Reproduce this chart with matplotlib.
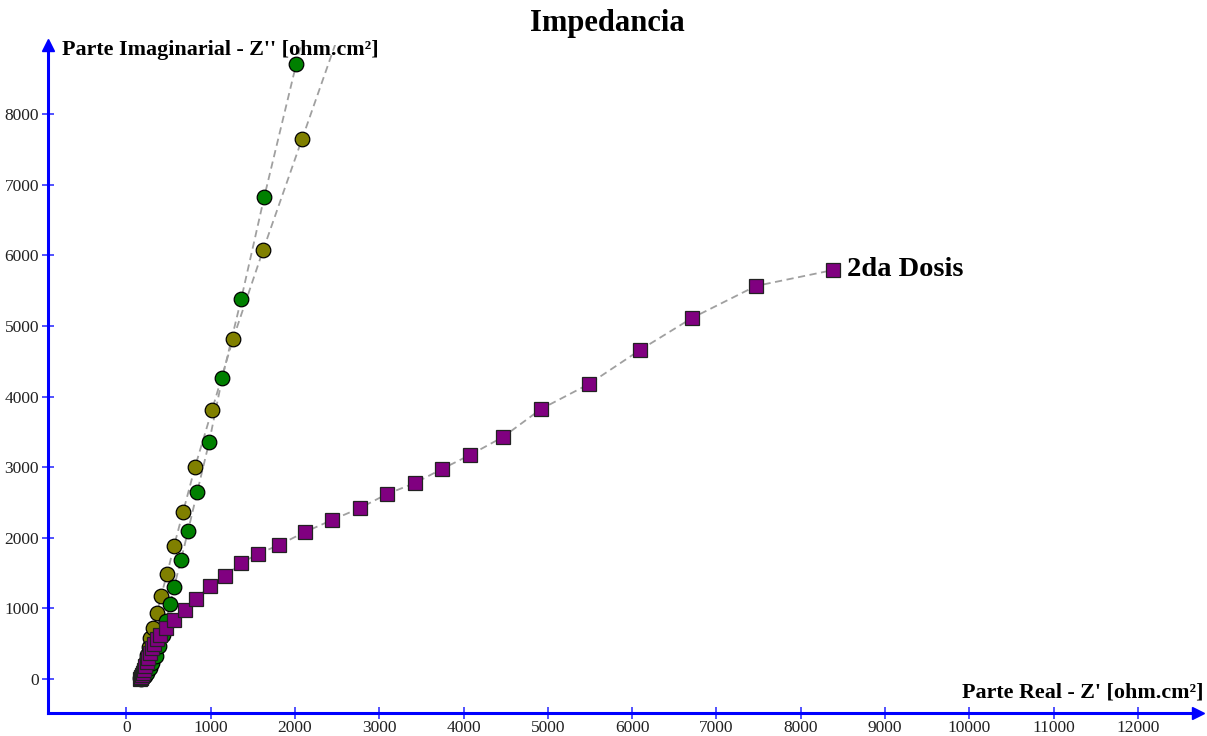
import matplotlib
matplotlib.use("Agg")
import matplotlib.pyplot as plt

plt.rcParams['font.family'] = ['Liberation Serif', 'DejaVu Serif']

# Series data (Z' real, Z'' imaginary) in ohm.cm²
dosis2_re = [160, 170, 180, 190, 200, 210, 225, 240, 260, 280, 300, 330, 360,
             400, 471, 566, 696, 827, 993, 1172, 1362, 1563, 1812, 2120, 2441,
             2773, 3093, 3425, 3745, 4078, 4469, 4920, 5489, 6094, 6711, 7470, 8387]
dosis2_im = [5, 15, 35, 60, 90, 130, 180, 240, 300, 370, 440, 500, 560,
             623, 722, 836, 977, 1133, 1317, 1459, 1643, 1771, 1898, 2082, 2252,
             2422, 2620, 2776, 2975, 3173, 3428, 3824, 4178, 4660, 5113, 5567, 5793]

green_re = [180, 200, 220, 250, 280, 310, 350, 390, 430, 471, 518, 566, 649,
            732, 841, 983, 1138, 1363, 1636, 2016, 2400]
green_im = [5, 20, 45, 90, 150, 230, 330, 460, 620, 822, 1062, 1303, 1686,
            2096, 2649, 3357, 4263, 5382, 6827, 8711, 10600]

olive_re = [160, 170, 180, 195, 210, 230, 250, 270, 281, 317, 364, 412, 483,
            566, 673, 815, 1017, 1266, 1623, 2085, 2547]
olive_im = [10, 30, 60, 110, 170, 250, 340, 450, 581, 722, 935, 1176, 1487,
            1884, 2365, 3003, 3810, 4816, 6076, 7649, 9222]

x_ticks = list(range(0, 13000, 1000))
y_ticks = list(range(0, 9000, 1000))
title = "Impedancia"
xlabel = "Parte Real - Z' [ohm.cm²]"
ylabel = "Parte Imaginarial - Z'' [ohm.cm²]"
series_label = "2da Dosis"

fig = plt.figure(figsize=(12.07, 7.36), dpi=100)
W, H = 1207, 736
left, right, top, bottom = 48, 1198, 45, 713
ax = fig.add_axes([left / W, 1 - bottom / H, (right - left) / W, (bottom - top) / H])
ax.set_xlim(-929, 12713)
ax.set_ylim(-482, 8980)

line_kw = dict(color='#a0a0a0', linestyle=(0, (4, 2.5)), linewidth=1.3, zorder=1)
ax.plot(olive_re, olive_im, **line_kw)
ax.plot(green_re, green_im, **line_kw)
ax.plot(dosis2_re, dosis2_im, **line_kw)

ax.plot(olive_re, olive_im, linestyle='none', marker='o', markersize=10.5,
        markerfacecolor='#808000', markeredgecolor='black', markeredgewidth=0.9, zorder=3)
ax.plot(green_re, green_im, linestyle='none', marker='o', markersize=10.5,
        markerfacecolor='#008000', markeredgecolor='black', markeredgewidth=0.9, zorder=4)
ax.plot(dosis2_re, dosis2_im, linestyle='none', marker='s', markersize=10.5,
        markerfacecolor='#800080', markeredgecolor='#222222', markeredgewidth=0.9, zorder=5)

ax.annotate(series_label, xy=(dosis2_re[-1], dosis2_im[-1]), xytext=(10, 0),
            textcoords='offset points', ha='left', va='center',
            fontsize=20.5, fontweight='bold', color='black')

for s in ['top', 'right']:
    ax.spines[s].set_visible(False)
for s in ['left', 'bottom']:
    ax.spines[s].set_color('blue')
    ax.spines[s].set_linewidth(2.2)

ax.set_xticks(x_ticks)
ax.set_yticks(y_ticks)
ax.set_xticklabels([str(v) for v in x_ticks])
ax.set_yticklabels([str(v) for v in y_ticks])
ax.tick_params(axis='both', direction='inout', length=9, width=1.2, color='#3333ff',
               labelsize=12.5, labelcolor='#222222', pad=2)
ax.tick_params(axis='x', pad=0.5)

# arrows at the spine ends
ax.plot(1.0, 0, marker='>', color='blue', markersize=9, transform=ax.transAxes,
        clip_on=False, zorder=6)
ax.plot(0, 1.0, marker='^', color='blue', markersize=9, transform=ax.transAxes,
        clip_on=False, zorder=6)

fig.text(62 / W, 1 - 50 / H, ylabel, ha='left', va='center', fontsize=15.8,
         fontweight='bold')
fig.text(1203 / W, 1 - 693 / H, xlabel, ha='right', va='center', fontsize=15.8,
         fontweight='bold')
fig.text(607 / W, 1 - 24 / H, title, ha='center', va='center', fontsize=22,
         fontweight='bold')

fig.savefig("out.png", dpi=100)
